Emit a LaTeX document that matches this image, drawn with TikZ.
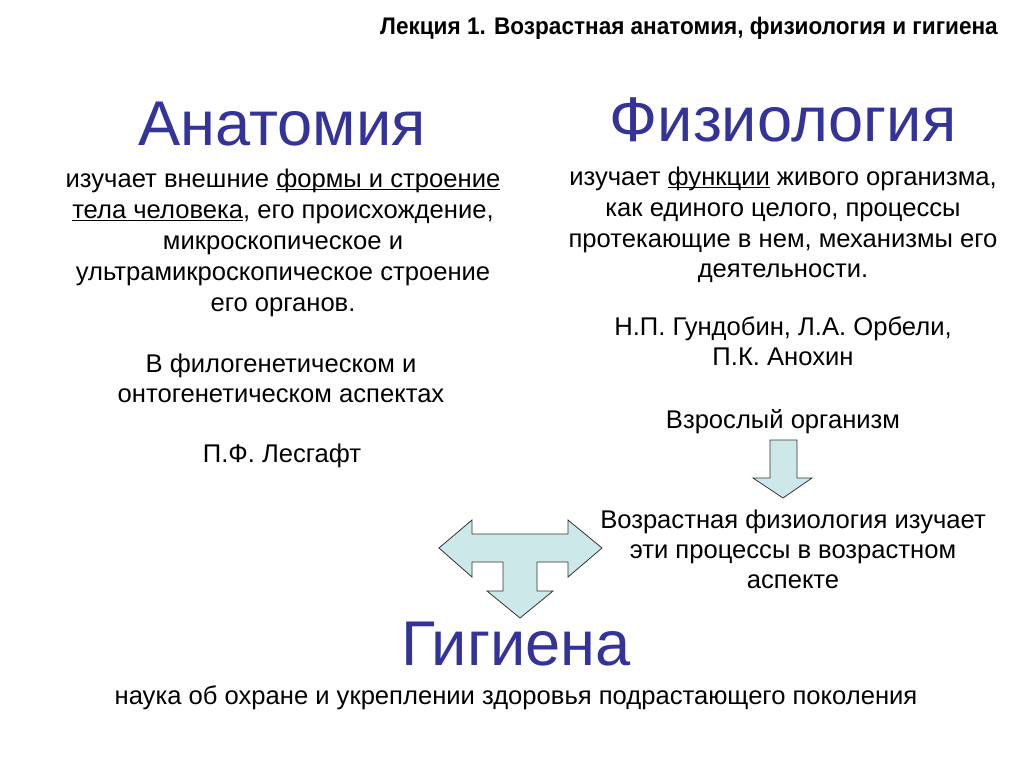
\documentclass[tikz,border=0pt]{standalone}
\usepackage{fontspec}
\setmainfont{Liberation Sans}
\newfontfamily\narrowfont[FakeStretch=0.94]{Liberation Sans}
\usepackage{tikz}

\definecolor{headblue}{RGB}{51,51,153}
\definecolor{arrowfill}{RGB}{204,232,232}
\newcommand\undl[1]{\setbox0=\hbox{#1}\rlap{\rule[-2.6pt]{\wd0}{1.1pt}}\box0\relax}

\begin{document}
\begin{tikzpicture}[x=0.75pt,y=-0.75pt]
\tikzstyle{txt}=[inner sep=0pt, anchor=base, font=\fontsize{19.2}{23}\selectfont]
\tikzstyle{head}=[inner sep=0pt, anchor=base, text=headblue, font=\fontsize{47.4}{52}\selectfont]
\tikzstyle{blockarrow}=[fill=arrowfill, draw=black!80, line width=0.6pt, line join=miter]

\useasboundingbox (0,0) rectangle (1024,767);

\node (title) at (998,35) [inner sep=0pt, anchor=base east, font=\narrowfont\bfseries\fontsize{18}{20}\selectfont] {Лекция 1. Возрастная анатомия, физиология и гигиена};

% left column
\node (anat) at (282,145) [head] {Анатомия};
\node (a1) at (283,187) [txt] {изучает внешние \undl{формы и строение}};
\node (a2) at (283,218) [txt] {\undl{тела человека}, его происхождение,};
\node (a3) at (283,249) [txt] {микроскопическое и};
\node (a4) at (283,280) [txt] {ультрамикроскопическое строение};
\node (a5) at (283,311) [txt] {его органов.};
\node (a6) at (281,372) [txt] {В филогенетическом и};
\node (a7) at (281,402) [txt] {онтогенетическом аспектах};
\node (a8) at (282,462) [txt] {П.Ф. Лесгафт};

% right column
\node (fiz) at (783,142) [head] {Физиология};
\node (f1) at (783,185) [txt] {изучает \undl{функции} живого организма,};
\node (f2) at (783,216) [txt] {как единого целого, процессы};
\node (f3) at (783,247) [txt] {протекающие в нем, механизмы его};
\node (f4) at (783,277) [txt] {деятельности.};
\node (f5) at (783,335) [txt] {Н.П. Гундобин, Л.А. Орбели,};
\node (f6) at (783,365) [txt] {П.К. Анохин};
\node (f7) at (783,428) [txt] {Взрослый организм};
\node (f8) at (793,528) [txt] {Возрастная физиология изучает};
\node (f9) at (793,558) [txt] {эти процессы в возрастном};
\node (f10) at (793,588) [txt] {аспекте};

% bottom
\node (gig) at (516,665) [head] {Гигиена};
\node (note) at (516,704) [txt] {наука об охране и укреплении здоровья подрастающего поколения};

% arrows
\draw[blockarrow] (770,440) -- (797,440) -- (797,478) -- (812,478) -- (783,498)
  -- (753,478) -- (770,478) -- cycle;
\draw[blockarrow] (439,548) -- (472,520) -- (472,534) -- (568,534) -- (568,520)
  -- (602,548) -- (568,577) -- (568,562) -- (537,562) -- (537,591) -- (553,591)
  -- (520,618) -- (487,591) -- (503,591) -- (503,562) -- (472,562) -- (472,577) -- cycle;
\end{tikzpicture}
\end{document}
